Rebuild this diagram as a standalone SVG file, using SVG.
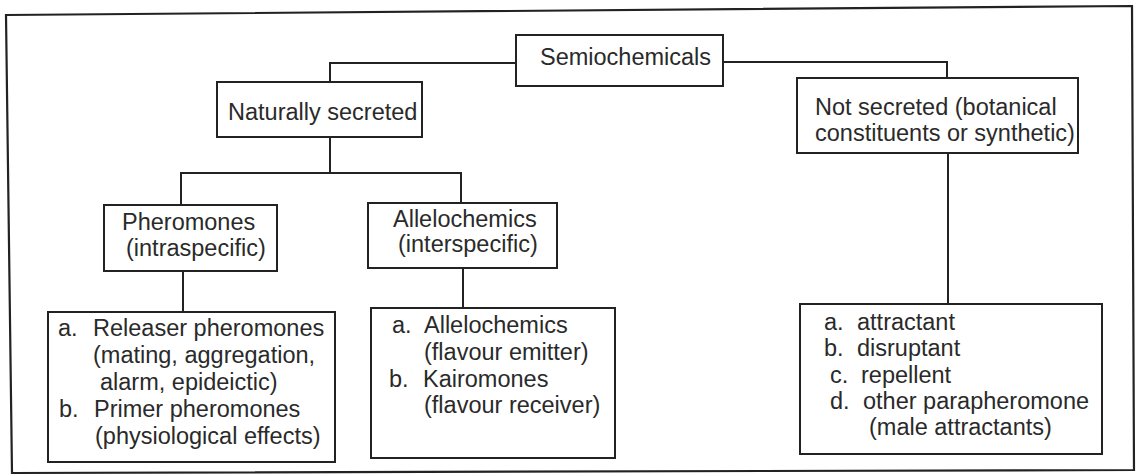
<svg xmlns="http://www.w3.org/2000/svg" width="1136" height="475" viewBox="0 0 1136 475">
  <style>
    .box { fill: #ffffff; stroke: #222; stroke-width: 2; }
    .wire { fill: none; stroke: #222; stroke-width: 2; }
    .frame { fill: none; stroke: #222; stroke-width: 2.2; }
    text { font-family: "Liberation Sans", Arial, sans-serif; font-size: 23.5px; fill: #2a2a2a; }
  </style>
  <rect width="1136" height="475" fill="#ffffff"/>
  <!-- outer frame -->
  <polygon class="frame" points="6,15 1132,6 1134,470 12,473"/>

  <!-- tree connectors -->
  <g id="connectors">
    <polyline class="wire" points="516,63 330,63 330,82"/>
    <polyline class="wire" points="723,62 947,62 947,78"/>
    <line class="wire" x1="330" y1="137" x2="330" y2="173"/>
    <polyline class="wire" points="181,205 181,173 461,173 461,203"/>
    <line class="wire" x1="183" y1="271" x2="183" y2="312"/>
    <line class="wire" x1="463" y1="268" x2="463" y2="308"/>
    <line class="wire" x1="948" y1="153" x2="948" y2="304"/>
  </g>

  <g id="semiochemicals">
    <rect class="box" x="516" y="35" width="207" height="51"/>
    <text x="540" y="65">Semiochemicals</text>
  </g>

  <g id="naturally-secreted">
    <rect class="box" x="217" y="82" width="205" height="55"/>
    <text x="228" y="120">Naturally secreted</text>
  </g>

  <g id="not-secreted">
    <rect class="box" x="797" y="78" width="281" height="75"/>
    <text x="815" y="115">Not secreted (botanical</text>
    <text x="815" y="141">constituents or synthetic)</text>
  </g>

  <g id="pheromones">
    <rect class="box" x="104" y="205" width="173" height="66"/>
    <text x="122" y="230">Pheromones</text>
    <text x="126" y="256">(intraspecific)</text>
  </g>

  <g id="allelochemics">
    <rect class="box" x="368" y="203" width="189" height="65"/>
    <text x="393" y="227">Allelochemics</text>
    <text x="398" y="252">(interspecific)</text>
  </g>

  <g id="pheromone-types">
    <rect class="box" x="48" y="312" width="287" height="150"/>
    <text x="58" y="336">a.</text>
    <text x="93" y="336">Releaser pheromones</text>
    <text x="93" y="363">(mating, aggregation,</text>
    <text x="100" y="390">alarm, epideictic)</text>
    <text x="59" y="417">b.</text>
    <text x="94" y="417">Primer pheromones</text>
    <text x="95" y="444">(physiological effects)</text>
  </g>

  <g id="allelochemic-types">
    <rect class="box" x="371" y="308" width="244" height="150"/>
    <text x="392" y="333">a.</text>
    <text x="424" y="333">Allelochemics</text>
    <text x="424" y="360">(flavour emitter)</text>
    <text x="389" y="387">b.</text>
    <text x="423" y="387">Kairomones</text>
    <text x="424" y="413">(flavour receiver)</text>
  </g>

  <g id="synthetic-types">
    <rect class="box" x="800" y="304" width="302" height="150"/>
    <text x="824" y="330">a.</text>
    <text x="857" y="330">attractant</text>
    <text x="824" y="356">b.</text>
    <text x="857" y="356">disruptant</text>
    <text x="830" y="383">c.</text>
    <text x="861" y="383">repellent</text>
    <text x="830" y="409">d.</text>
    <text x="863" y="409">other parapheromone</text>
    <text x="869" y="435">(male attractants)</text>
  </g>
</svg>
